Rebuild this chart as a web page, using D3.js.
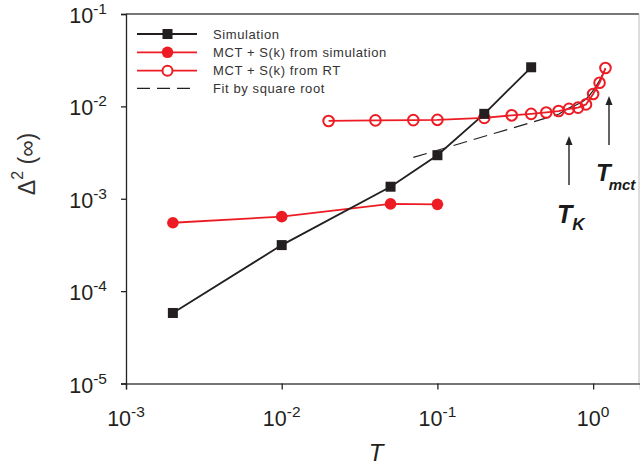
<!DOCTYPE html>
<html><head><meta charset="utf-8">
<script src="https://cdn.jsdelivr.net/npm/d3@7"></script>
<style>
html,body{margin:0;padding:0;background:#fff;}
svg{display:block;font-family:"Liberation Sans",Arial,sans-serif;}
</style></head>
<body>
<svg id="c" width="640" height="466"></svg>
<script>
// ---- data ----
const simT = [0.002, 0.01, 0.05, 0.1, 0.2, 0.4];
const simY = [5.8e-5, 3.15e-4, 1.35e-3, 2.96e-3, 8.3e-3, 2.65e-2];

const mctSimT = [0.002, 0.01, 0.05, 0.1];
const mctSimY = [5.5e-4, 6.4e-4, 8.8e-4, 8.7e-4];

const mctRtT = [0.02, 0.04, 0.07, 0.1, 0.2, 0.3, 0.4, 0.5, 0.6, 0.7, 0.8, 0.9, 1.0, 1.1, 1.2];
const mctRtY = [6.95e-3, 7.05e-3, 7.1e-3, 7.15e-3, 7.5e-3, 8.0e-3, 8.3e-3, 8.6e-3, 8.9e-3, 9.4e-3, 9.7e-3, 1.05e-2, 1.36e-2, 1.8e-2, 2.6e-2];

const fitT = [0.07, 0.6];
const fitY = [2.8e-3, 8.2e-3];

const curveT = [0.6, 0.7, 0.8, 0.9, 1.0, 1.1, 1.2];
const curveY = [8.2e-3, 9.6e-3, 1.06e-2, 1.2e-2, 1.48e-2, 1.92e-2, 2.55e-2];

const xTickVals = [1e-3, 1e-2, 1e-1, 1];
const xTickExp = ["-3", "-2", "-1", "0"];
const yTickVals = [1e-5, 1e-4, 1e-3, 1e-2, 1e-1];
const yTickExp = ["-5", "-4", "-3", "-2", "-1"];

const legendLabels = ["Simulation", "MCT + S(k) from simulation", "MCT + S(k) from RT", "Fit by square root"];

// ---- chart ----
const RED = "#ed1c24", BLK = "#231f20", AX = "#4a4a4a";
const svg = d3.select("#c");
const L = 126, R = 640, T = 14, B = 383.5;
const x = d3.scaleLog().domain([1e-3, 2]).range([L, R]);
const y = d3.scaleLog().domain([1e-5, 1e-1]).range([B, T]);

// frame
svg.append("line").attr("x1", L).attr("x2", 639).attr("y1", T).attr("y2", T).attr("stroke", AX).attr("stroke-width", 1.3);
svg.append("line").attr("x1", 639).attr("x2", 639).attr("y1", T).attr("y2", B).attr("stroke", "#bbb").attr("stroke-width", 1);

// axes
const xAxis = svg.append("g").attr("transform", `translate(0,${B})`)
  .call(d3.axisBottom(x).tickValues(xTickVals).tickSize(6).tickFormat(""));
const yAxis = svg.append("g").attr("transform", `translate(${L},0)`)
  .call(d3.axisLeft(y).tickValues(yTickVals).tickSize(5).tickFormat(""));
[xAxis, yAxis].forEach(g => {
  g.select(".domain").attr("stroke", AX).attr("stroke-width", 1.3);
  g.selectAll(".tick line").attr("stroke", "#222").attr("stroke-width", 1.3);
});
yAxis.select(".domain").attr("stroke", "#222");

// tick labels
xTickVals.forEach((v, i) => {
  const t = svg.append("text").attr("x", x(v)).attr("y", 426).attr("text-anchor", "middle")
    .attr("fill", BLK).attr("font-size", 21.5);
  t.append("tspan").text("10");
  t.append("tspan").attr("font-size", 15.5).attr("dy", -9).text(xTickExp[i]);
});
yTickVals.forEach((v, i) => {
  const t = svg.append("text").attr("x", 107).attr("y", y(v) + 9).attr("text-anchor", "end")
    .attr("fill", BLK).attr("font-size", 21.5);
  t.append("tspan").text("10");
  t.append("tspan").attr("font-size", 15.5).attr("dy", -9).text(yTickExp[i]);
});

// axis titles
svg.append("text").attr("x", 376).attr("y", 461).attr("text-anchor", "middle")
  .attr("font-size", 24).attr("font-style", "italic").attr("fill", BLK).text("T");
const yt = svg.append("text").attr("transform", "translate(35,164) rotate(-90)")
  .attr("text-anchor", "middle").attr("font-size", 23).attr("fill", "#333");
yt.append("tspan").text("\u0394");
yt.append("tspan").attr("font-size", 16).attr("dy", -12).text("2");
yt.append("tspan").attr("dy", 12).text(" (\u221e)");

// lines
const line = d3.line().x(d => x(d[0])).y(d => y(d[1]));
const zip = (a, b) => a.map((v, i) => [v, b[i]]);

svg.append("path").datum(zip(fitT, fitY)).attr("d", line).attr("fill", "none")
  .attr("stroke", BLK).attr("stroke-width", 1.2).attr("stroke-dasharray", "14,7");
svg.append("path").datum(zip(curveT, curveY)).attr("d", line.curve(d3.curveMonotoneX)).attr("fill", "none")
  .attr("stroke", BLK).attr("stroke-width", 1.2);
line.curve(d3.curveLinear);

svg.append("path").datum(zip(mctRtT, mctRtY)).attr("d", line).attr("fill", "none")
  .attr("stroke", RED).attr("stroke-width", 1.8);
svg.append("path").datum(zip(mctSimT, mctSimY)).attr("d", line).attr("fill", "none")
  .attr("stroke", RED).attr("stroke-width", 1.8);
svg.append("path").datum(zip(simT, simY)).attr("d", line).attr("fill", "none")
  .attr("stroke", BLK).attr("stroke-width", 1.8);

// markers
svg.append("g").selectAll("circle").data(zip(mctRtT, mctRtY)).join("circle")
  .attr("cx", d => x(d[0])).attr("cy", d => y(d[1])).attr("r", 5.3)
  .attr("fill", "none").attr("stroke", RED).attr("stroke-width", 2);
svg.append("g").selectAll("circle").data(zip(mctSimT, mctSimY)).join("circle")
  .attr("cx", d => x(d[0])).attr("cy", d => y(d[1])).attr("r", 5.8).attr("fill", RED);
svg.append("g").selectAll("rect").data(zip(simT, simY)).join("rect")
  .attr("x", d => x(d[0]) - 5).attr("y", d => y(d[1]) - 5).attr("width", 10).attr("height", 10).attr("fill", BLK);

// legend
const lg = svg.append("g");
const rows = [34, 52.3, 70.7, 88.3];
rows.forEach((ry, i) => {
  const ln = lg.append("line").attr("x1", 137).attr("x2", 197).attr("y1", ry).attr("y2", ry)
    .attr("stroke", i === 0 || i === 3 ? BLK : RED).attr("stroke-width", i === 3 ? 1.2 : 1.8);
  if (i === 3) ln.attr("stroke-dasharray", "13,7");
  if (i === 0) lg.append("rect").attr("x", 162.5).attr("y", ry - 5).attr("width", 10).attr("height", 10).attr("fill", BLK);
  if (i === 1) lg.append("circle").attr("cx", 167.5).attr("cy", ry).attr("r", 5.8).attr("fill", RED);
  if (i === 2) lg.append("circle").attr("cx", 167.5).attr("cy", ry).attr("r", 5).attr("fill", "#fff").attr("stroke", RED).attr("stroke-width", 2);
  lg.append("text").attr("x", 213).attr("y", ry + 4.5).attr("font-size", 13).attr("letter-spacing", 0.6)
    .attr("fill", "#333").text(legendLabels[i]);
});

// arrows + annotation
function arrow(ax, y0, y1) {
  svg.append("line").attr("x1", ax).attr("x2", ax).attr("y1", y0).attr("y2", y1 + 7).attr("stroke", "#222").attr("stroke-width", 1.4);
  svg.append("path").attr("d", `M${ax},${y1} L${ax - 3.5},${y1 + 9} L${ax + 3.5},${y1 + 9} Z`).attr("fill", "#222");
}
arrow(569, 185, 136);
arrow(609, 145, 96);

const tk = svg.append("text").attr("x", 557).attr("y", 223).attr("font-weight", "bold").attr("font-style", "italic").attr("fill", "#1a1a1a");
tk.append("tspan").attr("font-size", 25).text("T");
tk.append("tspan").attr("font-size", 17).attr("dy", 7).text("K");
const tm = svg.append("text").attr("x", 596).attr("y", 181).attr("font-weight", "bold").attr("font-style", "italic").attr("fill", "#1a1a1a");
tm.append("tspan").attr("font-size", 24).text("T");
tm.append("tspan").attr("font-size", 15).attr("dy", 9).attr("dx", -2).text("mct");
</script>
</body></html>
